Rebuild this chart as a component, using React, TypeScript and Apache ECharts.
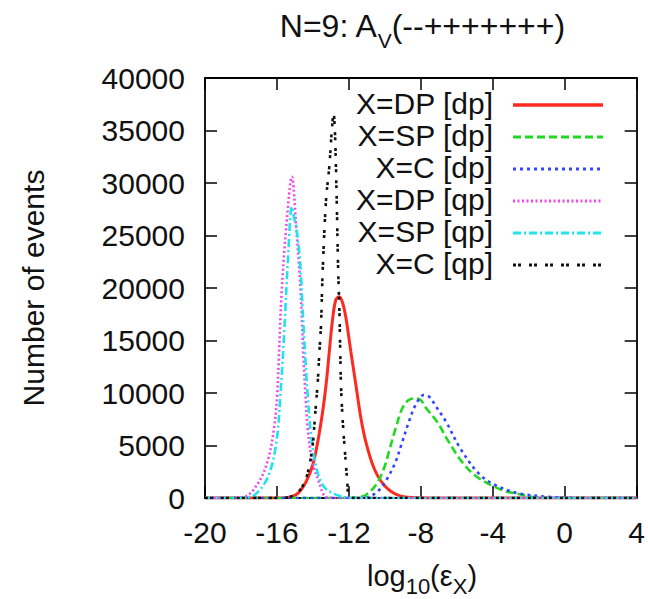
import React, { useEffect, useRef } from "react";
import * as echarts from "echarts";

// ---- data ----
const titleMain = "N=9: A";
const titleSub = "V";
const titleTail = "(--+++++++)";
const yAxisTitle = "Number of events";
const xTickValues = [-20, -16, -12, -8, -4, 0, 4];
const yTickValues = [0, 5000, 10000, 15000, 20000, 25000, 30000, 35000, 40000];
const legendLabels = ["X=DP [dp]", "X=SP [dp]", "X=C [dp]", "X=DP [qp]", "X=SP [qp]", "X=C [qp]"];

const dpDP: [number, number][] = [
  [-20, 0], [-16, 0], [-15.4, 60], [-14.84, 450], [-14.38, 1550], [-14.01, 3140], [-13.73, 5360],
  [-13.46, 8220], [-13.27, 10760], [-13.09, 13930], [-12.9, 17110], [-12.72, 18900], [-12.53, 19170],
  [-12.35, 18600], [-12.16, 17110], [-11.89, 13930], [-11.61, 10760], [-11.33, 7590], [-11.06, 5360],
  [-10.6, 2830], [-10.05, 1240], [-9.31, 290], [-8.5, 40], [-7, 0], [4, 0],
];
const dpSP: [number, number][] = [
  [-20, 0], [-12.2, 0], [-11.5, 60], [-11.06, 290], [-10.5, 1240], [-10.05, 2830], [-9.72, 4730],
  [-9.4, 6640], [-9.03, 8540], [-8.7, 9300], [-8.35, 9490], [-8.0, 9300], [-7.7, 8540], [-7.1, 7270],
  [-6.45, 5360], [-5.72, 3460], [-4.89, 2030], [-3.5, 760], [-2.58, 380], [-1.85, 120], [-0.76, 0], [4, 0],
];
const dpC: [number, number][] = [
  [-20, 0], [-11.5, 0], [-10.88, 120], [-10.32, 760], [-9.86, 1880], [-9.4, 3460], [-9.03, 5360],
  [-8.66, 7270], [-8.29, 8860], [-7.83, 9810], [-7.5, 9600], [-7.19, 8800], [-6.6, 7270], [-5.81, 4730],
  [-4.79, 2350], [-3.87, 1240], [-2.58, 450], [-0.74, 100], [1, 0], [4, 0],
];
const qpDP: [number, number][] = [
  [-20, 0], [-18.6, 0], [-17.8, 120], [-17.05, 1400], [-16.5, 3620], [-16.15, 6800], [-15.98, 10000],
  [-15.9, 13140], [-15.74, 19500], [-15.48, 25840], [-15.17, 30600], [-14.93, 25840], [-14.68, 19500],
  [-14.52, 13140], [-14.42, 10000], [-14.3, 6800], [-14.05, 3620], [-13.64, 1400], [-13.3, 120],
  [-12.8, 0], [4, 0],
];
const qpSP: [number, number][] = [
  [-20, 0], [-18.6, 0], [-17.97, 30], [-17.24, 290], [-16.5, 2030], [-16.04, 5210], [-15.8, 10000],
  [-15.58, 16310], [-15.39, 22670], [-15.17, 27740], [-15.05, 26700], [-14.93, 25840], [-14.72, 22670],
  [-14.52, 16310], [-14.3, 10000], [-14.05, 5210], [-13.75, 2500], [-13.4, 1100], [-12.9, 450],
  [-12.3, 120], [-11.8, 0], [4, 0],
];
const qpC: [number, number][] = [
  [-20, 0], [-16, 0], [-15.5, 30], [-15.02, 290], [-14.65, 920], [-14.38, 1880], [-14.19, 3140],
  [-14.01, 5050], [-13.92, 6950], [-13.82, 9170], [-13.73, 11080], [-13.64, 13930], [-13.55, 16480],
  [-13.46, 21500], [-13.27, 28380], [-13.09, 31550], [-12.95, 35000], [-12.85, 36640], [-12.78, 35000],
  [-12.72, 31550], [-12.66, 27000], [-12.6, 22000], [-12.53, 18000], [-12.48, 13930], [-12.44, 10760],
  [-12.35, 7590], [-12.26, 5300], [-12.16, 3100], [-12.08, 1240], [-12.03, 290], [-11.9, 40],
  [-11.5, 0], [4, 0],
];

const seriesData = [dpDP, dpSP, dpC, qpDP, qpSP, qpC];
const seriesColors = ["#ff2a1f", "#22d822", "#3346ff", "#f046f0", "#1ee4ee", "#111111"];
const seriesDash: (string | number[])[] = ["solid", [8, 4], [3, 4], [2, 2.5], [8, 3, 2, 3], [3, 2, 3, 8]];

const FONT = "'Liberation Sans', Arial, Helvetica, sans-serif";

export default function App() {
  const ref = useRef<HTMLDivElement>(null);
  useEffect(() => {
    if (!ref.current) return;
    const chart = echarts.init(ref.current, undefined, { renderer: "svg" });

    const gridLeft = 205, gridRight = 639, gridTop = 78, gridBottom = 498;
    const axisCommon = {
      type: "value" as const,
      axisLine: { show: true, onZero: false, lineStyle: { color: "#000", width: 1.8 } },
      axisTick: { show: true, inside: true, length: 12, lineStyle: { color: "#000", width: 1.5 } },
      splitLine: { show: false },
    };
    const plain = (v: number) => String(v);

    const legendGraphics: any[] = [];
    legendLabels.forEach((lab, i) => {
      const y = 105 + i * 32;
      legendGraphics.push({
        type: "text",
        x: 493,
        y: y - 2,
        style: { text: lab, fill: "#111", fontSize: 30, fontFamily: FONT, align: "right", verticalAlign: "middle" },
      });
      const dash = seriesDash[i];
      legendGraphics.push({
        type: "line",
        shape: { x1: 513, y1: y, x2: 603, y2: y },
        style: {
          stroke: seriesColors[i],
          lineWidth: i === 0 ? 3.5 : 3,
          lineDash: typeof dash === "string" ? null : dash,
        },
      });
    });

    chart.setOption({
      animation: false,
      backgroundColor: "#fff",
      grid: {
        left: gridLeft,
        top: gridTop,
        width: gridRight - gridLeft,
        height: gridBottom - gridTop,
        show: false,
      },
      xAxis: [
        {
          ...axisCommon,
          position: "bottom",
          min: xTickValues[0],
          max: xTickValues[xTickValues.length - 1],
          interval: 4,
          axisLabel: { show: true, margin: 19, color: "#111", fontSize: 30, fontFamily: FONT, formatter: plain },
        },
        {
          ...axisCommon,
          position: "top",
          min: xTickValues[0],
          max: xTickValues[xTickValues.length - 1],
          interval: 4,
          axisLabel: { show: false },
        },
      ],
      yAxis: [
        {
          ...axisCommon,
          position: "left",
          min: yTickValues[0],
          max: yTickValues[yTickValues.length - 1],
          interval: 5000,
          axisLabel: { show: true, margin: 20, color: "#111", fontSize: 30, fontFamily: FONT, formatter: plain },
        },
        {
          ...axisCommon,
          position: "right",
          min: yTickValues[0],
          max: yTickValues[yTickValues.length - 1],
          interval: 5000,
          axisLabel: { show: false },
        },
      ],
      series: seriesData.map((d, i) => ({
        name: legendLabels[i],
        type: "line",
        xAxisIndex: 0,
        yAxisIndex: 0,
        data: d,
        showSymbol: false,
        symbol: "none",
        smooth: 0.35,
        lineStyle: { color: seriesColors[i], width: i === 0 ? 3 : 2.6, type: seriesDash[i] as any },
        z: 2 + i,
      })),
      graphic: [
        {
          type: "text",
          x: 422,
          y: 26,
          style: {
            text: `{m|${titleMain}}{s|${titleSub}}{m|${titleTail}}`,
            fill: "#111",
            fontSize: 32,
            fontFamily: FONT,
            align: "center",
            verticalAlign: "middle",
            rich: {
              m: { fontSize: 32, fontFamily: FONT, lineHeight: 50, verticalAlign: "middle", fill: "#111" },
              s: { fontSize: 21, fontFamily: FONT, lineHeight: 21, verticalAlign: "bottom", fill: "#111" },
            },
          },
        },
        {
          type: "text",
          x: 33,
          y: 288,
          rotation: Math.PI / 2,
          style: {
            text: yAxisTitle,
            fill: "#111",
            fontSize: 30,
            fontFamily: FONT,
            align: "center",
            verticalAlign: "middle",
          },
        },
        {
          type: "text",
          x: 422,
          y: 576,
          style: {
            text: "{m|log}{s|10}{m|(ε}{s|X}{m|)}",
            fill: "#111",
            fontSize: 29,
            fontFamily: FONT,
            align: "center",
            verticalAlign: "middle",
            rich: {
              m: { fontSize: 29, fontFamily: FONT, lineHeight: 42, verticalAlign: "middle", fill: "#111" },
              s: { fontSize: 22, fontFamily: FONT, lineHeight: 22, verticalAlign: "bottom", fill: "#111" },
            },
          },
        },
        ...legendGraphics,
      ],
    });
    return () => chart.dispose();
  }, []);
  return <div ref={ref} style={{ position: "fixed", left: 0, top: 0, width: 648, height: 599 }} />;
}
